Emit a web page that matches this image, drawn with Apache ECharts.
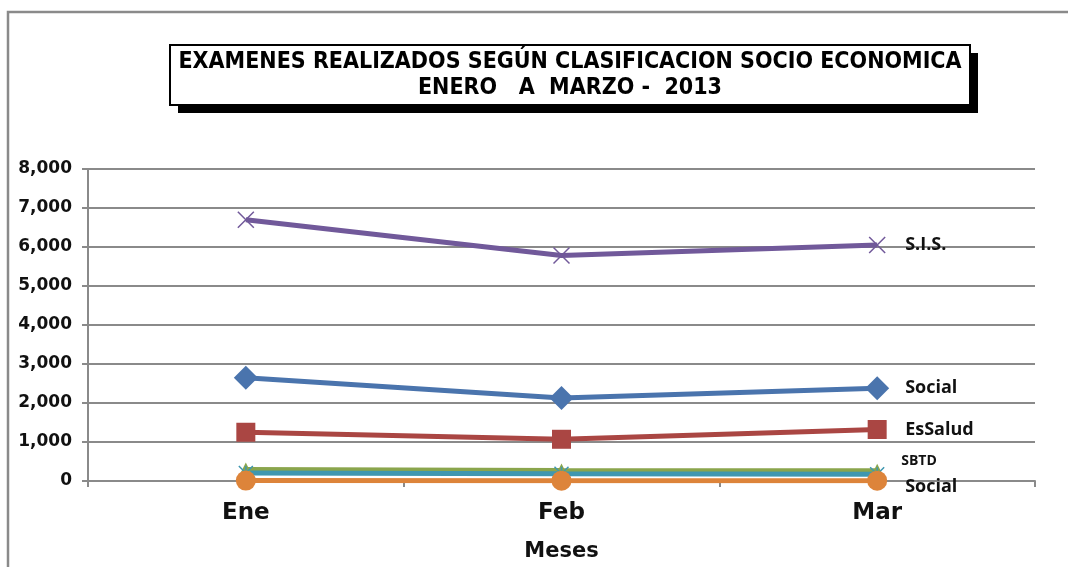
<!DOCTYPE html>
<html>
<head>
<meta charset="utf-8">
<script src="https://cdn.jsdelivr.net/npm/echarts@6/dist/echarts.min.js"></script>
<style>
  html, body { margin: 0; padding: 0; background: #fff; }
  #chart { width: 1068px; height: 567px; }
</style>
</head>
<body>
<div id="chart"></div>
<script>
// datos
const meses = ['Ene', 'Feb', 'Mar']
const yTicks = [0, 1000, 2000, 3000, 4000, 5000, 6000, 7000, 8000]

const social = [2650, 2130, 2380]
const esSalud = [1250, 1070, 1320]
const sbtd = [295, 270, 260]
const sis = [6700, 5780, 6050]
const otros = [205, 185, 175]
const social2 = [10, 8, 8]

const GRAY = '#8a8a8a'
const labelFont = '"Open Sans", "Liberation Sans", Arial, sans-serif'
const axisFont = '"DejaVu Sans", Verdana, sans-serif'

const chart = echarts.init(document.getElementById('chart'))

function lineSeries(name, data, color, symbol, size, label, extra) {
  return Object.assign({
    name,
    type: 'line',
    data,
    symbol,
    symbolSize: size,
    lineStyle: { color, width: 5 },
    itemStyle: { color },
    z: 3,
    endLabel: label ? Object.assign({
      show: true,
      formatter: label.text,
      color: '#111',
      fontFamily: labelFont,
      fontWeight: 'bold',
      fontSize: label.size || 18,
      distance: label.distance || 28
    }, label.style || {}) : undefined
  }, extra || {})
}

const option = {
  animation: false,
  grid: { left: 88, right: 33, top: 169, bottom: 86 },
  graphic: [
    // marco exterior
    { type: 'rect', shape: { x: 8, y: 12, width: 1200, height: 700 },
      style: { fill: 'none', stroke: GRAY, lineWidth: 2.5 }, silent: true },
    // caja del título con sombra
    { type: 'rect', shape: { x: 178, y: 53, width: 800, height: 60 },
      style: { fill: '#000' }, silent: true },
    { type: 'rect', shape: { x: 170, y: 45, width: 800, height: 60 },
      style: { fill: '#fff', stroke: '#000', lineWidth: 2 }, silent: true },
    { type: 'text', x: 570, y: 62, silent: true,
      style: { text: 'EXAMENES REALIZADOS SEGÚN CLASIFICACION SOCIO ECONOMICA',
        align: 'center', verticalAlign: 'middle', fill: '#000',
        font: 'bold 23px "DejaVu Sans Condensed", "DejaVu Sans", sans-serif' } },
    { type: 'text', x: 570, y: 88, silent: true,
      style: { text: 'ENERO   A  MARZO -  2013',
        align: 'center', verticalAlign: 'middle', fill: '#000',
        font: 'bold 23px "DejaVu Sans Condensed", "DejaVu Sans", sans-serif' } }
  ],
  xAxis: {
    type: 'category',
    data: meses,
    boundaryGap: true,
    name: 'Meses',
    nameLocation: 'middle',
    nameGap: 60,
    nameTextStyle: { color: '#111', fontFamily: axisFont, fontWeight: 'bold', fontSize: 21 },
    axisLine: { lineStyle: { color: GRAY, width: 2 } },
    axisTick: { show: true, length: 6, lineStyle: { color: GRAY, width: 2 } },
    axisLabel: { color: '#111', fontFamily: axisFont, fontWeight: 'bold', fontSize: 23, margin: 21 }
  },
  yAxis: {
    type: 'value',
    min: yTicks[0],
    max: yTicks[yTicks.length - 1],
    interval: 1000,
    axisLine: { show: true, lineStyle: { color: GRAY, width: 2 } },
    axisTick: { show: true, length: 6, lineStyle: { color: GRAY, width: 2 } },
    axisLabel: {
      color: '#111', fontFamily: axisFont, fontWeight: 'bold', fontSize: 17, margin: 16,
      formatter: v => v.toLocaleString('en-US')
    },
    splitLine: { lineStyle: { color: GRAY, width: 2 } }
  },
  series: [
    lineSeries('Social', social, '#4a74ad', 'diamond', 24, { text: 'Social' }),
    lineSeries('EsSalud', esSalud, '#aa4643', 'rect', 19, { text: 'EsSalud' }),
    lineSeries('SBTD', sbtd, '#8aa54c', 'triangle', 14,
      { text: 'SBTD', size: 14, distance: 24, style: { offset: [0, -10] } }),
    lineSeries('S.I.S.', sis, '#71599a', 'path://M0,0L10,10M10,0L0,10', 16, { text: 'S.I.S.' },
      { itemStyle: { color: '#71599a', borderColor: '#71599a', borderWidth: 1.5 } }),
    lineSeries('Otros', otros, '#3f97b0', 'path://M0,0L10,10M10,0L0,10M5,0L5,10', 14, null,
      { itemStyle: { color: '#3f97b0', borderColor: '#3f97b0', borderWidth: 1.5 } }),
    lineSeries('Social ', social2, '#dd843a', 'circle', 20,
      { text: 'Social', style: { offset: [0, 6] } })
  ]
}

chart.setOption(option)
window.addEventListener('resize', () => chart.resize())
</script>
</body>
</html>
